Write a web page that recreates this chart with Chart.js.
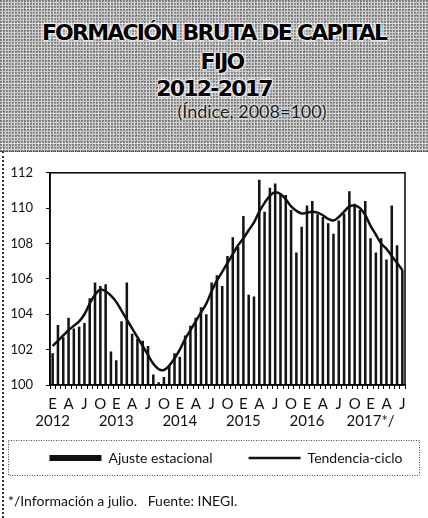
<!DOCTYPE html>
<html><head><meta charset="utf-8">
<script src="https://cdn.jsdelivr.net/npm/chart.js@4.4.1/dist/chart.umd.min.js"></script>
<style>
html,body{margin:0;padding:0;background:#fff;}
#page{position:relative;width:428px;height:518px;overflow:hidden;background:#fff;}
#header{position:absolute;left:0;top:0;width:428px;height:151px;
 background-color:#cacaca;
 background-image:
  radial-gradient(circle at 30% 30%, rgba(0,0,0,0.4) 0.7px, transparent 1.1px),
  radial-gradient(circle at 60% 70%, rgba(255,255,255,0.8) 0.7px, transparent 1.2px),
  radial-gradient(circle at 50% 50%, rgba(0,0,0,0.22) 0.6px, transparent 1px);
 background-size:3px 3px, 4px 5px, 7px 6px;
 border-bottom:1px dotted #444;}
.t{position:absolute;left:0;width:428px;text-align:center;font-family:'DejaVu Sans';font-weight:bold;
 font-size:22px;letter-spacing:-1.8px;color:#000;line-height:24px;
 text-shadow:0 0 2px #fff,0 0 2px #fff,0 0 3px #fff,0 0 4px #fff;}
#sub{position:absolute;left:38px;width:428px;text-align:center;font-family:Lato;font-size:18px;color:#1a1a1a;
 line-height:20px;text-shadow:0 0 2px #fff,0 0 3px #fff;}
#leftline{position:absolute;left:2px;top:151px;height:367px;border-left:2px dotted #333;}
#chartwrap{position:absolute;left:0;top:152px;width:428px;height:366px;}
#foot{position:absolute;left:8px;top:492px;font-family:Lato;font-size:14px;color:#111;line-height:17px;white-space:pre;}
</style></head>
<body>
<div id="page">
 <div id="header">
  <div class="t" style="top:21px;">FORMACIÓN BRUTA DE CAPITAL</div>
  <div class="t" style="top:50px;left:8px;">FIJO</div>
  <div class="t" style="top:77px;">2012-2017</div>
  <div id="sub" style="top:101px;">(Índice, 2008=100)</div>
 </div>
 <div id="leftline"></div>
 <div id="chartwrap"><canvas id="c" width="428" height="366"></canvas></div>
 <div id="foot">*/Información a julio.   Fuente: INEGI.</div>
</div>
<script>
// Months shown on the axis (E=enero, A=abril, J=julio, O=octubre)
const monthLetters = ['E','','','A','','','J','','','O','',''];
const years = ['2012','2013','2014','2015','2016','2017*/'];

// Ajuste estacional (monthly, Jan 2012 - Jul 2017)
const ajusteEstacional = [
 101.8,103.4,102.7,103.8,103.2,103.3,103.5,104.9,105.8,105.6,105.7,101.9,
 101.4,103.6,105.8,102.9,102.6,102.5,102.2,100.6,100.15,100.45,101.1,101.8,
 101.6,102.8,103.35,103.8,104.4,104.0,105.8,106.2,105.6,107.3,108.35,107.8,
 109.55,105.1,105.0,111.6,109.8,111.15,111.4,110.8,110.75,109.9,107.5,108.95,
 110.15,110.4,109.65,109.5,109.15,108.55,109.3,109.7,110.95,110.25,109.9,110.4,
 108.3,107.5,108.3,107.1,110.15,107.9,106.5
];
// Tendencia-ciclo
const tendenciaCiclo = [
 102.2,102.5,102.8,103.1,103.35,103.6,104.0,104.6,105.1,105.4,105.3,105.05,
 104.7,104.2,103.7,103.2,102.7,102.2,101.7,101.2,100.9,100.85,101.1,101.5,
 102.0,102.6,103.1,103.6,104.1,104.6,105.3,105.9,106.4,106.9,107.4,107.9,
 108.3,108.75,109.2,109.8,110.3,110.7,110.9,110.8,110.5,110.1,109.85,109.7,
 109.75,109.8,109.75,109.6,109.4,109.3,109.5,109.8,110.1,110.15,110.0,109.6,
 109.0,108.5,108.0,107.7,107.3,106.9,106.5
];
const yTicks = {min:100, max:112, step:2};

const labels = ajusteEstacional.map((_, i) => {
  const m = i % 12, y = Math.floor(i / 12);
  return [monthLetters[m], m === 0 ? years[y] : ''];
});

const LEGEND_PAD = 36;
const framePlugin = {
  id:'frame',
  afterDatasetsDraw(chart){
    const {ctx, chartArea:a} = chart;
    ctx.save(); ctx.strokeStyle='#000'; ctx.lineWidth=1.5;
    ctx.strokeRect(a.left, a.top, a.right-a.left, a.bottom-a.top);
    ctx.restore();
  }
};
// place the legend block just under the axis labels and a little right of centre
const legendPlacePlugin = {
  id:'legendPlace',
  afterLayout(chart){
    const lg = chart.legend; if(!lg) return;
    const h = lg.bottom - lg.top;
    const newTop = chart.chartArea.bottom + 30;
    lg.top = newTop; lg.bottom = newTop + h;
    lg.left += 12; lg.right += 12;
  },
  afterDraw(chart){
    const lg = chart.legend; if(!lg) return;
    const ctx = chart.ctx;
    const cy = lg.top + LEGEND_PAD + 7;
    ctx.save(); ctx.strokeStyle='#444'; ctx.lineWidth=1; ctx.setLineDash([1,1.5]);
    ctx.strokeRect(8.5, cy - 17.5, chart.width - 17, 35);
    ctx.restore();
  }
};

function draw(){
  new Chart(document.getElementById('c'), {
    type:'bar',
    data:{
      labels,
      datasets:[
        {type:'line', label:'Tendencia-ciclo', data:tendenciaCiclo, borderColor:'#111', backgroundColor:'#111',
         borderWidth:2.5, pointRadius:0, tension:0.4, fill:false, pointStyle:'line', yAxisID:'y'},
        {type:'bar', label:'Ajuste estacional', data:ajusteEstacional, backgroundColor:'#141414', borderWidth:0,
         base:100, barPercentage:0.48, categoryPercentage:1, pointStyle:'rect', yAxisID:'y'}
      ]
    },
    options:{
      responsive:false, animation:false,
      layout:{padding:{top:18, left:0, right:0, bottom:28}},
      plugins:{
        tooltip:{enabled:false},
        title:{display:false},
        legend:{
          position:'bottom',
          labels:{
            usePointStyle:true, pointStyleWidth:52, boxHeight:6, padding:LEGEND_PAD, color:'#111',
            font:{family:'Lato', size:14},
            sort:(a,b)=>b.datasetIndex - a.datasetIndex,
            generateLabels(chart){
              const items = Chart.defaults.plugins.legend.labels.generateLabels(chart);
              items.forEach(it => {
                const ds = chart.data.datasets[it.datasetIndex];
                if (ds.type === 'line') { it.pointStyle='line'; it.strokeStyle='#111'; it.lineWidth=2.5; }
                else { it.pointStyle='rect'; it.fillStyle='#111'; it.lineWidth=0; }
              });
              return items;
            }
          }
        }
      },
      scales:{
        x:{
          offset:true,
          grid:{offset:true, drawOnChartArea:false, drawTicks:true, tickLength:4, color:'#000', lineWidth:1},
          border:{display:true, color:'#000', width:1.5},
          ticks:{autoSkip:false, maxRotation:0, minRotation:0, padding:7, color:'#111',
                 font:{family:'Lato', size:15, lineHeight:1.13}},
          afterFit(s){ s.height = 45; }
        },
        y:{
          min:yTicks.min, max:yTicks.max,
          ticks:{stepSize:yTicks.step, padding:13, color:'#111', font:{family:'Lato', size:13}},
          grid:{drawOnChartArea:false, drawTicks:true, tickLength:4, color:'#000'},
          border:{display:true, color:'#000', width:1.5},
          afterFit(s){ s.width = 50; }
        },
        yR:{
          position:'right', min:yTicks.min, max:yTicks.max, display:true,
          grid:{display:false}, ticks:{display:false}, border:{display:false},
          afterFit(s){ s.width = 23; }
        }
      }
    },
    plugins:[framePlugin, legendPlacePlugin]
  });
}
const fontLoads = [document.fonts.load('14px Lato'), document.fonts.load('bold 22px "DejaVu Sans"')];
Promise.all(fontLoads).then(draw, draw);
</script>
</body></html>
